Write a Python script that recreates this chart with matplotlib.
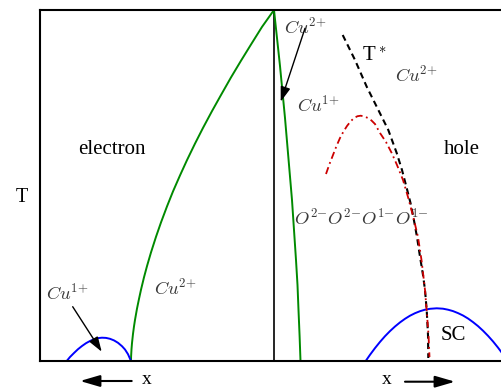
import matplotlib
matplotlib.use("Agg")
import matplotlib.pyplot as plt

plt.rcParams['mathtext.fontset'] = 'cm'

# ---- data (arbitrary doping / temperature units) ----
green_left_x = [91, 91.1, 91.5, 92, 93, 94, 95, 97, 99, 101, 104, 107, 111, 116, 121, 127,
                133, 140, 147, 155, 163, 172, 181, 191, 201, 211, 222, 234]
green_left_T = [0, 4.5, 11.8, 17.9, 27.1, 34.6, 41.1, 52.4, 62.1, 71.3, 83.7, 94.9, 108.6,
                124.2, 138.6, 154.6, 169.6, 185.6, 200.9, 217.4, 233.1, 249.9, 266.0, 283.6,
                300.3, 316.5, 334.1, 351]

green_right_x = [234, 237, 240, 242.5, 245, 248.5, 252, 254, 256, 257.5, 258.5, 259.6, 260.5]
green_right_T = [351, 323, 295, 269, 243, 202, 161, 131, 101, 76, 51, 25, 0]

sc_e_x = [26.7, 30, 34, 38, 42, 46, 50, 54, 58, 62, 66, 70, 74, 78, 82, 85, 88, 91]
sc_e_T = [0, 4, 8, 11.8, 15, 17.8, 20, 21.8, 22.9, 23.3, 23.1, 22.2, 20.6, 18.2, 14.8, 11.5, 6.8, 0]

sc_h_x = [325.7, 330, 335, 340, 345, 350, 355, 360, 365, 370, 375, 380, 385, 390, 396.7,
          403, 408, 413, 418, 423, 428, 433, 438, 443, 448, 453, 458, 463, 467.7]
sc_h_T = [0, 6.2, 12.9, 19.1, 24.8, 29.9, 34.5, 38.6, 42.2, 45.3, 47.8, 49.8, 51.3, 52.2, 52.7,
          52.3, 51.3, 49.9, 47.9, 45.5, 42.5, 38.9, 34.9, 30.3, 25.2, 19.6, 13.4, 6.7, 0]

tstar_x = [302.7, 315, 326.7, 336.7, 348.3, 356.7, 362, 366.7, 370.5, 373.3, 377, 380, 383,
           385, 386.7, 388, 388.3]
tstar_T = [326, 301, 274.3, 254.3, 231, 208, 191, 173, 158, 144.3, 124, 104.3, 86, 71, 51, 26, 3]

red_x = [286, 289.5, 293, 296.5, 300, 303.5, 307, 310.5, 314, 317.5, 320.7, 324, 328, 331.5,
         335, 340, 346, 351.7, 357, 363, 368, 373.3, 378, 381.5, 385, 387, 388.5, 389.5]
red_T = [187, 197, 206, 215, 223, 229.5, 235, 239.5, 243, 244.8, 245.3, 244.6, 243, 240.5,
         237, 228, 219, 208, 196, 181, 164, 144, 124, 101, 71, 46, 26, 4]

x_split = 234

fig = plt.figure(figsize=(5.02, 3.89), dpi=100)
ax = fig.add_axes([40/502, 28/389, 462/502, 351/389])
ax.set_xlim(0, 462)
ax.set_ylim(0, 351)
ax.set_xticks([])
ax.set_yticks([])
for s in ['left', 'bottom', 'top']:
    ax.spines[s].set_linewidth(1.5)
ax.spines['right'].set_visible(False)

ax.axvline(x_split, color='black', lw=1.2)

ax.plot(green_left_x, green_left_T, color='#008a00', lw=1.4)
ax.plot(green_right_x, green_right_T, color='#008a00', lw=1.4)
ax.plot(sc_e_x, sc_e_T, color='#0000ff', lw=1.4)
ax.plot(sc_h_x, sc_h_T, color='#0000ff', lw=1.4)
ax.plot(tstar_x, tstar_T, color='black', lw=1.5, linestyle=(0, (3, 2)))
ax.plot(red_x, red_T, color='#cc0000', lw=1.3, linestyle=(0, (4, 2, 1, 2)))

serif = 'Liberation Serif'
gray = '#3a3a3a'
ax.text(72, 211, 'electron', fontsize=15, family=serif, ha='center', va='center')
ax.text(421.7, 211, 'hole', fontsize=15, family=serif, ha='center', va='center')
ax.text(-18.3, 163, 'T', fontsize=14.5, family=serif, ha='center', va='center', clip_on=False)
ax.text(334, 304, r'T$^*$', fontsize=15, family=serif, ha='center', va='center')
ax.text(413.3, 26, 'SC', fontsize=15, family=serif, ha='center', va='center')

mfs = 13.3
ax.text(265, 334, r'$Cu^{2{+}}$', fontsize=mfs, color=gray, ha='center', va='center')
ax.text(376, 286, r'$Cu^{2{+}}$', fontsize=mfs, color=gray, ha='center', va='center')
ax.text(278, 256, r'$Cu^{1{+}}$', fontsize=mfs, color=gray, ha='center', va='center')
ax.text(27, 68, r'$Cu^{1{+}}$', fontsize=mfs, color=gray, ha='center', va='center')
ax.text(135, 73, r'$Cu^{2{+}}$', fontsize=mfs, color=gray, ha='center', va='center')
ax.text(321.7, 143, r'$O^{2{-}}O^{2{-}}O^{1{-}}O^{1{-}}$', fontsize=mfs, color=gray,
        ha='center', va='center')

ax.annotate('', xy=(240.7, 259.3), xytext=(265, 332.7),
            arrowprops=dict(arrowstyle='-|>,head_length=0.9,head_width=0.3', color='black',
                            lw=1.0, mutation_scale=10, shrinkA=0, shrinkB=0))
ax.annotate('', xy=(61.7, 9.3), xytext=(32.7, 54.3),
            arrowprops=dict(arrowstyle='-|>,head_length=0.9,head_width=0.3', color='black',
                            lw=1.0, mutation_scale=10, shrinkA=0, shrinkB=0))

ax.annotate('', xy=(40, -20), xytext=(91.7, -20), annotation_clip=False,
            arrowprops=dict(arrowstyle='-|>,head_length=1.2,head_width=0.35', color='black',
                            lw=1.5, mutation_scale=10, shrinkA=0, shrinkB=0))
ax.annotate('', xy=(415, -20.7), xytext=(365, -20.7), annotation_clip=False,
            arrowprops=dict(arrowstyle='-|>,head_length=1.2,head_width=0.35', color='black',
                            lw=1.5, mutation_scale=10, shrinkA=0, shrinkB=0))
ax.text(106.7, -19, 'x', fontsize=14, family=serif, ha='center', va='center', clip_on=False)
ax.text(346.7, -19, 'x', fontsize=14, family=serif, ha='center', va='center', clip_on=False)

fig.savefig('out.png', dpi=100)
